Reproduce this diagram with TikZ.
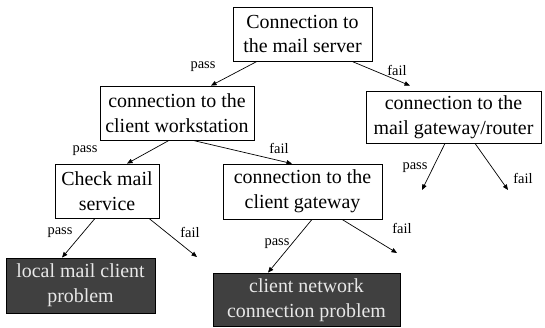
\documentclass[tikz,border=0pt]{standalone}
\usepackage{fontspec}
\setmainfont{Liberation Serif}
\usetikzlibrary{arrows.meta}
\definecolor{darkfill}{HTML}{404040}
\definecolor{darktext}{HTML}{E8E8E8}
\begin{document}
\begin{tikzpicture}[x=1bp,y=-1bp,
  box/.style={draw=black, line width=0.8bp, fill=white, align=center,
    inner sep=0pt, font=\fontsize{20}{25}\selectfont},
  dark/.style={box, fill=darkfill, text=darktext},
  arr/.style={line width=0.7bp, -{Triangle[length=5.5bp,width=4.5bp]}},
  lbl/.style={font=\fontsize{14.5}{16}\selectfont, inner sep=0pt}]
\useasboundingbox (0,0) rectangle (545,327);

% decision boxes
\node[box, minimum width=139bp, minimum height=54bp] (b1) at (302.5,34)
  {Connection to\\the mail server};
\node[box, minimum width=154bp, minimum height=54bp] (b2) at (177,113)
  {connection to the\\client workstation};
\node[box, minimum width=175bp, minimum height=52bp] (b3) at (453.5,117)
  {connection to the\\mail gateway/router};
\node[box, minimum width=104bp, minimum height=54bp] (b4) at (107,191)
  {Check mail\\service};
\node[box, minimum width=159bp, minimum height=55bp] (b5) at (302.5,191.5)
  {connection to the\\client gateway};

% outcome boxes
\node[dark, minimum width=149bp, minimum height=55bp] (b6) at (80.5,285.5)
  {local mail client\\problem};
\node[dark, minimum width=187bp, minimum height=53.5bp] (b7) at (306.5,299.75)
  {client network\\connection problem};

% open ends of branches
\coordinate (e5) at (422,190);
\coordinate (e6) at (508,190);
\coordinate (e8) at (197,257);
\coordinate (e10) at (397,253);

% branches
\draw[arr] ([xshift=-45.5bp]b1.south) -- ([xshift=34bp]b2.north);
\draw[arr] ([xshift=49.5bp]b1.south) -- ([xshift=-43.5bp,yshift=5bp]b3.north);
\draw[arr] ([xshift=-8bp]b2.south) -- ([xshift=20bp]b4.north);
\draw[arr] ([xshift=16bp]b2.south) -- ([xshift=-10.5bp]b5.north);
\draw[arr] ([xshift=-8.5bp]b3.south) -- (e5);
\draw[arr] ([xshift=21.5bp]b3.south) -- (e6);
\draw[arr] ([xshift=-12bp]b4.south) -- ([xshift=-18.5bp]b6.north);
\draw[arr] ([xshift=42bp]b4.south) -- (e8);
\draw[arr] ([xshift=9.5bp]b5.south) -- ([xshift=-38.5bp]b7.north);
\draw[arr] ([xshift=39.5bp]b5.south) -- (e10);

% branch labels
\node[lbl] (l1) at (203,67) {pass};
\node[lbl] (l2) at (397,70) {fail};
\node[lbl] (l3) at (85,151) {pass};
\node[lbl] (l4) at (279,148) {fail};
\node[lbl] (l5) at (415,168) {pass};
\node[lbl] (l6) at (523,178) {fail};
\node[lbl] (l7) at (60,233) {pass};
\node[lbl] (l8) at (190,232) {fail};
\node[lbl] (l9) at (277,244) {pass};
\node[lbl] (l10) at (402,228) {fail};
\end{tikzpicture}
\end{document}
